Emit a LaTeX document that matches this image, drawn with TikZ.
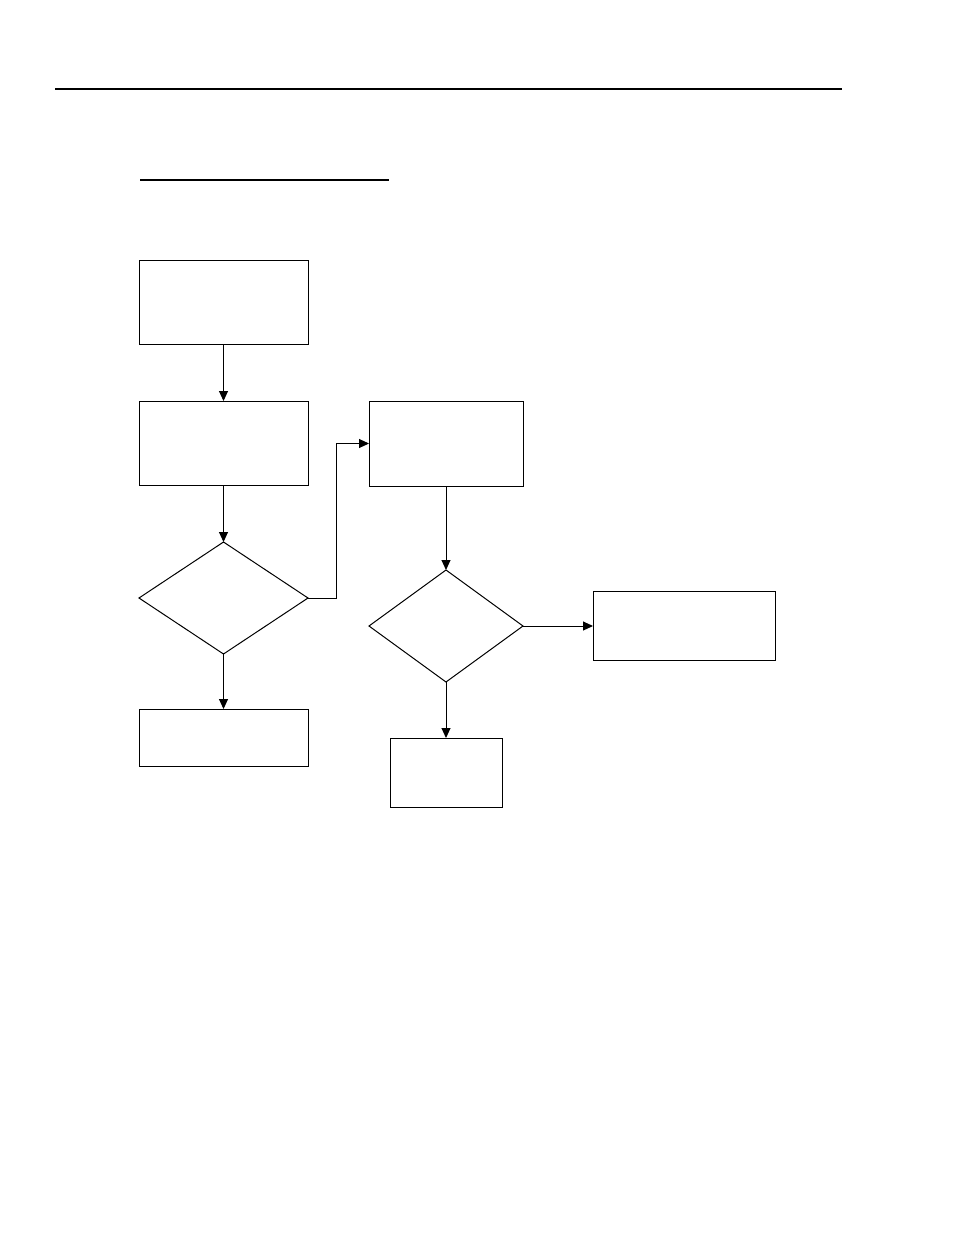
\documentclass[tikz,border=0pt]{standalone}
\usetikzlibrary{shapes.geometric,arrows.meta}
\begin{document}
\begin{tikzpicture}[x=1pt,y=-1pt,
  every node/.style={draw,line width=1pt,inner sep=0pt,outer sep=0pt},
  boxnode/.style={rectangle},
  decnode/.style={diamond,aspect=1},
  conn/.style={line width=1pt,-{Triangle[length=10pt,width=9pt]}}]
\useasboundingbox (0,0) rectangle (954,1235);
\fill[white] (0,0) rectangle (954,1235);
\draw[line width=1.3pt] (55,89) -- (842,89);
\draw[line width=1.3pt] (140,180) -- (389,180);
\node[boxnode,minimum width=169pt,minimum height=84pt] (a) at (223.5,302) {};
\node[boxnode,minimum width=169pt,minimum height=84pt] (b) at (223.5,443) {};
\node[decnode,minimum width=169pt,minimum height=112pt] (d1) at (223.5,598) {};
\node[boxnode,minimum width=169pt,minimum height=57pt] (c) at (223.5,737.5) {};
\node[boxnode,minimum width=154pt,minimum height=85pt] (e) at (446,443.5) {};
\node[decnode,minimum width=154pt,minimum height=112pt] (d2) at (446,626) {};
\node[boxnode,minimum width=182pt,minimum height=69pt] (f) at (684,626) {};
\node[boxnode,minimum width=112pt,minimum height=69pt] (g) at (446,772.5) {};
\coordinate (k1) at (336,598);
\coordinate (k2) at (336,443.5);
\draw[conn] (a.south) -- (b.north);
\draw[conn] (b.south) -- (d1.north);
\draw[conn] (d1.south) -- (c.north);
\draw[conn] (d1.east) -- (k1) -- (k2) -- (e.west);
\draw[conn] (e.south) -- (d2.north);
\draw[conn] (d2.east) -- (f.west);
\draw[conn] (d2.south) -- (g.north);
\end{tikzpicture}
\end{document}
